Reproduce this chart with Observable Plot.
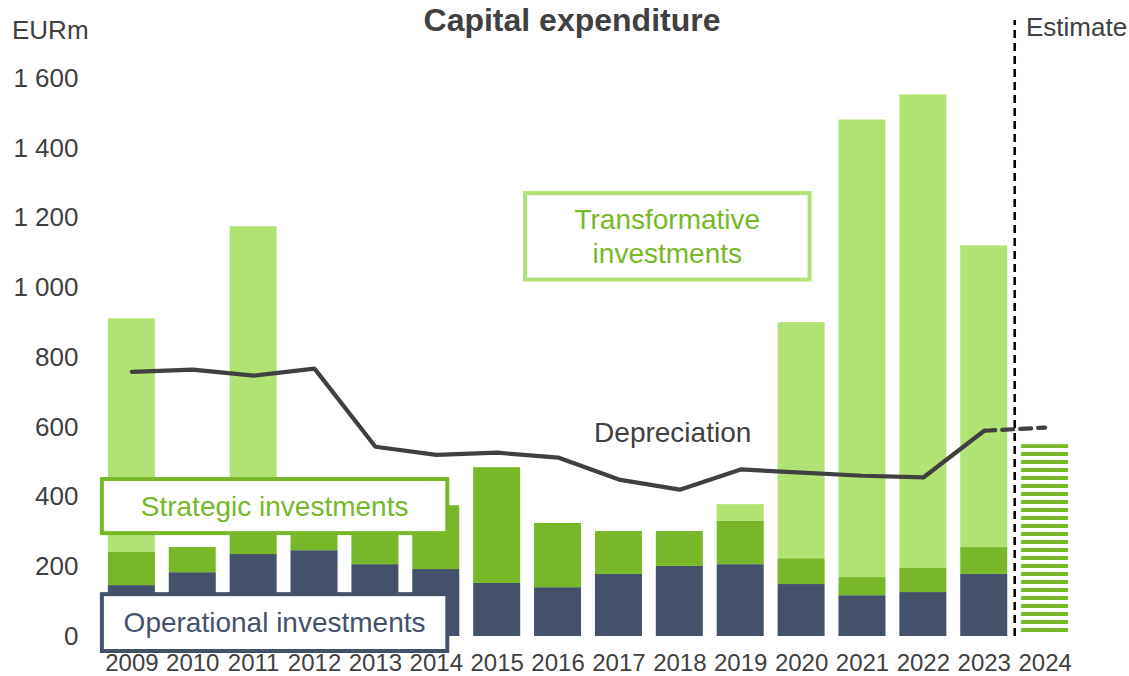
<!DOCTYPE html>
<html><head><meta charset="utf-8">
<script src="https://cdn.jsdelivr.net/npm/d3@7"></script>
<script src="https://cdn.jsdelivr.net/npm/@observablehq/plot@0.6"></script>
<style>body{margin:0;background:#fff} svg{display:block}</style>
</head><body><div id="chart"></div>
<script>
// ---- data ----
const years = ["2009","2010","2011","2012","2013","2014","2015","2016","2017","2018","2019","2020","2021","2022","2023","2024"];
const operational    = [146,183,235,246,206,192,152,140,178,201,206,149,117,126,178,0];
const strategic      = [ 95, 72,155,134,154,183,332,184,123,100,124, 74, 52, 69, 77,0];
const transformative = [670,  0,785,  0,  0,  0,  0,  0,  0,  0, 48,677,1312,1358,865,0];
const estimate       = [  0,  0,  0,  0,  0,  0,  0,  0,  0,  0,  0,  0,   0,   0,  0,550];
const depreciation   = [759,765,748,768,544,521,527,513,450,421,479,470,461,456,590,599];
const yTicks = [0,200,400,600,800,1000,1200,1400,1600];
const categories = ["Operational investments","Strategic investments","Transformative investments"];
const colors = ["#44516a","#78b828","#b1e374"];

// ---- tables ----
const stacked = [];
years.forEach((yr,i)=>{
  stacked.push({year:yr, type:categories[0], value:operational[i]});
  stacked.push({year:yr, type:categories[1], value:strategic[i]});
  stacked.push({year:yr, type:categories[2], value:transformative[i]});
});
const est = years.map((yr,i)=>({year:yr, value:estimate[i]})).filter(d=>d.value>0);
const dep = years.map((yr,i)=>({year:yr, value:depreciation[i]}));
const depActual = dep.slice(0, 15);
const depEst = dep.slice(14, 16);

const fmt = d3.formatLocale({thousands:" ", grouping:[3], decimal:".", currency:["",""]}).format(",");
const FONT = "'Liberation Sans', Arial, Helvetica, sans-serif";

const plot = Plot.plot({
  width: 1129,
  height: 676,
  marginLeft: 94,
  marginRight: 47,
  marginTop: 78,
  marginBottom: 40,
  style: {fontFamily: FONT, color: "#404040", background: "#fff"},
  x: {type: "band", domain: years, padding: 0.228, round: false},
  y: {domain: [0, 1600]},
  color: {domain: categories, range: colors},
  marks: [
    Plot.barY(stacked, {x: "year", y: "value", fill: "type"}),
    Plot.barY(est, {x: "year", y: "value", fill: "url(#stripes)"}),
    Plot.ruleX(["2024"], {y1: 0, y2: 1766, dx: -30.4, stroke: "#000", strokeWidth: 2.6, strokeDasharray: "8,5"}),
    Plot.lineY(depActual, {x: "year", y: "value", stroke: "#404040", strokeWidth: 4.2, strokeLinejoin: "miter"}),
    Plot.lineY(depEst, {x: "year", y: "value", stroke: "#404040", strokeWidth: 4.2, strokeDasharray: "11,7", strokeLinecap: "round"}),
    Plot.axisY({ticks: yTicks, tickSize: 0, tickPadding: 16, tickFormat: fmt, fontSize: 26, label: null}),
    Plot.axisX({tickSize: 0, tickPadding: 17, fontSize: 24, label: null})
  ]
});
document.getElementById("chart").appendChild(plot);

// ---- pattern + annotations ----
const svg = d3.select(plot);
const defs = svg.insert("defs", ":first-child");
const pat = defs.append("pattern").attr("id", "stripes").attr("patternUnits", "userSpaceOnUse")
  .attr("x", 0).attr("y", 4).attr("width", 8).attr("height", 8);
pat.append("rect").attr("x", 0).attr("y", 0).attr("width", 8).attr("height", 4).attr("fill", "#78b828");

const sx = plot.scale("x"), sy = plot.scale("y");
const X = v => sx.apply(v);
const Y = v => sy.apply(v);
const g = svg.append("g").attr("font-family", FONT).attr("text-anchor", "start");

function box(x1, x2, y1, y2, stroke, lines, color, fs) {
  g.append("rect").attr("x", x1).attr("y", y1).attr("width", x2 - x1).attr("height", y2 - y1)
    .attr("fill", "#fff").attr("stroke", stroke).attr("stroke-width", 4);
  const cx = (x1 + x2) / 2, cy = (y1 + y2) / 2;
  const lh = fs * 1.22;
  lines.forEach((t, i) => {
    g.append("text").attr("x", cx).attr("y", cy + (i - (lines.length - 1) / 2) * lh)
      .attr("dy", "0.35em").attr("text-anchor", "middle").attr("font-size", fs)
      .attr("fill", color).text(t);
  });
}
box(X("2009") - 6, X("2014") + 35, Y(450), Y(295), "#78b828", ["Strategic investments"], "#78b828", 28);
box(X("2009") - 6, X("2014") + 35, Y(120), Y(-43), "#44516a", ["Operational investments"], "#44516a", 28);
box(X("2016") - 9, X("2020") + 32, Y(1270), Y(1022), "#b1e374", ["Transformative", "investments"], "#78b828", 28);

g.append("text").attr("x", X("2019") - 44).attr("y", Y(585)).attr("dy", "0.35em").attr("text-anchor", "middle")
  .attr("font-size", 28).attr("fill", "#404040").text("Depreciation");
g.append("text").attr("x", 572).attr("y", 31).attr("text-anchor", "middle")
  .attr("font-size", 32).attr("font-weight", "bold").attr("fill", "#404040").text("Capital expenditure");
g.append("text").attr("x", 12).attr("y", 39).attr("text-anchor", "start").attr("font-size", 26).attr("fill", "#404040").text("EURm");
g.append("text").attr("x", 1026).attr("y", 36).attr("text-anchor", "start").attr("font-size", 26).attr("fill", "#404040").text("Estimate");
</script>
</body></html>
